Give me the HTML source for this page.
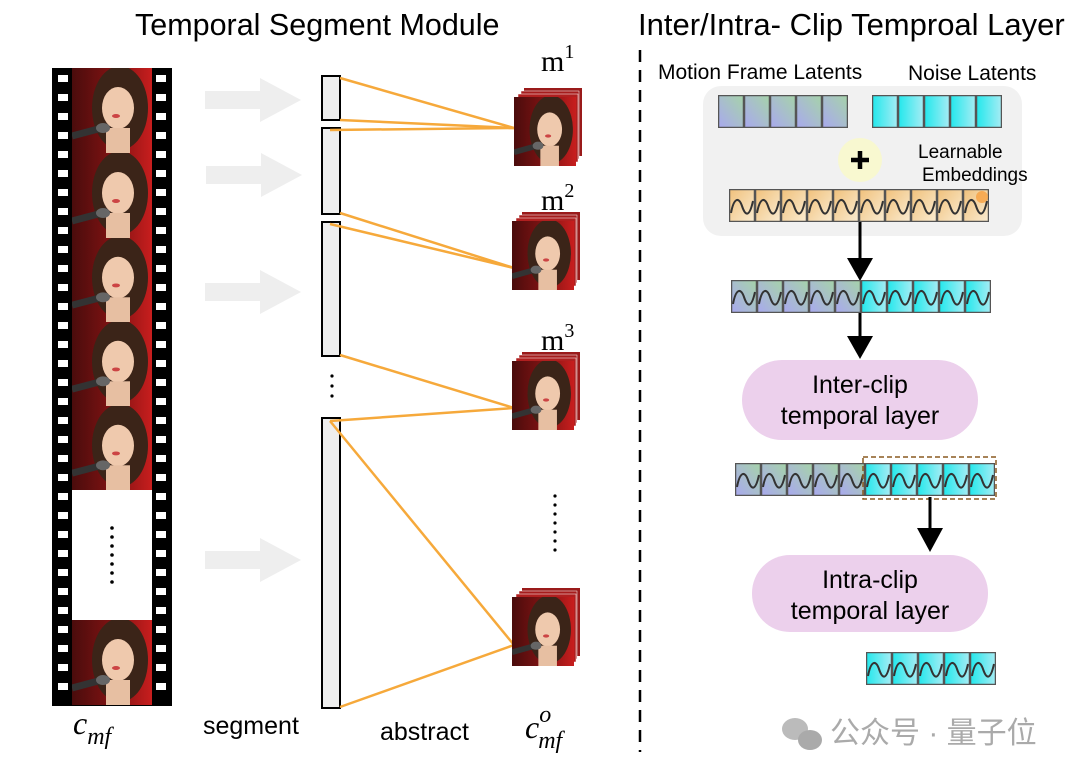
<!DOCTYPE html>
<html><head><meta charset="utf-8"><style>
html,body{margin:0;padding:0;background:#fff;}
svg{display:block;font-family:"Liberation Sans",sans-serif;}
</style></head><body>
<svg width="1080" height="774" viewBox="0 0 1080 774" xmlns="http://www.w3.org/2000/svg">
<defs>
<linearGradient id="bg" x1="0" y1="0" x2="1" y2="0"><stop offset="0" stop-color="#4a0c0c"/><stop offset="0.6" stop-color="#8a1414"/><stop offset="1" stop-color="#c81e1e"/></linearGradient>
<linearGradient id="blue" x1="0" y1="1" x2="1" y2="0"><stop offset="0" stop-color="#a9a8f0"/><stop offset="1" stop-color="#a6d4a8"/></linearGradient>
<linearGradient id="cyan" x1="0" y1="0" x2="1" y2="0"><stop offset="0" stop-color="#20e8ec"/><stop offset="1" stop-color="#a8ecf4"/></linearGradient>
<linearGradient id="orng" x1="0" y1="0" x2="1" y2="1"><stop offset="0" stop-color="#f0c07a"/><stop offset="1" stop-color="#faecd2"/></linearGradient>
<symbol id="face" viewBox="0 0 80 85" width="80" height="85" preserveAspectRatio="none">
<rect width="80" height="85" fill="url(#bg)"/>
<ellipse cx="48" cy="40" rx="28" ry="42" fill="#3b2418"/>
<ellipse cx="46" cy="40" rx="16" ry="21" fill="#efc9ad"/>
<rect x="34" y="60" width="24" height="25" fill="#e7bfa2"/>
<ellipse cx="44" cy="48" rx="4" ry="2" fill="#c44"/>
<path d="M0,68 L30,60" stroke="#333" stroke-width="7"/>
<ellipse cx="31" cy="60" rx="7" ry="5" fill="#666"/>
</symbol>
<symbol id="cb" viewBox="0 0 26 33" width="26" height="33"><rect x="0" y="0" width="26" height="33" fill="url(#blue)" stroke="#555" stroke-width="2.5"/></symbol>
<symbol id="cc" viewBox="0 0 26 33" width="26" height="33"><rect x="0" y="0" width="26" height="33" fill="url(#cyan)" stroke="#555" stroke-width="2.5"/></symbol>
<symbol id="wb" viewBox="0 0 26 33" width="26" height="33"><rect x="0" y="0" width="26" height="33" fill="url(#blue)" stroke="#555" stroke-width="2.5"/><path d="M2,24 C5,8 10,8 13,17 S20,30 24,12" fill="none" stroke="#333" stroke-width="2"/></symbol>
<symbol id="wc" viewBox="0 0 26 33" width="26" height="33"><rect x="0" y="0" width="26" height="33" fill="url(#cyan)" stroke="#555" stroke-width="2.5"/><path d="M2,24 C5,8 10,8 13,17 S20,30 24,12" fill="none" stroke="#333" stroke-width="2"/></symbol>
<symbol id="wo" viewBox="0 0 26 33" width="26" height="33"><rect x="0" y="0" width="26" height="33" fill="url(#orng)" stroke="#555" stroke-width="2.5"/><path d="M2,24 C5,8 10,8 13,17 S20,30 24,12" fill="none" stroke="#333" stroke-width="2"/></symbol>
<symbol id="garrow" viewBox="0 0 96 44" width="96" height="44"><path d="M0,13 H55 V0 L96,22 L55,44 V31 H0 Z" fill="#eeeeee"/></symbol>
<symbol id="stack" viewBox="0 0 68 78" width="68" height="78">
<rect x="10" y="0" width="58" height="68" fill="#9a1a1a"/>
<rect x="7" y="3" width="58" height="68" fill="#a51c1c" stroke="#fff" stroke-width="0.5"/>
<rect x="4" y="6" width="60" height="68" fill="#b01f1f" stroke="#fff" stroke-width="0.5"/>
<use href="#face" x="0" y="9" width="62" height="69"/>
</symbol>
</defs>

<text x="135" y="35" font-size="30.5">Temporal Segment Module</text>
<text x="638" y="35" font-size="31">Inter/Intra- Clip Temproal Layer</text>

<!-- film strip -->
<rect x="52" y="68" width="120" height="638" fill="#000"/>
<use href="#face" x="72" y="68" width="80" height="85"/>
<use href="#face" x="72" y="153" width="80" height="85"/>
<use href="#face" x="72" y="238" width="80" height="84"/>
<use href="#face" x="72" y="322" width="80" height="84"/>
<use href="#face" x="72" y="406" width="80" height="84"/>
<rect x="72" y="490" width="80" height="130" fill="#fff"/>
<use href="#face" x="72" y="620" width="80" height="85"/>
<g fill="#fff">
<rect x="58" y="75" width="10" height="7"/><rect x="58" y="94" width="10" height="7"/><rect x="58" y="113" width="10" height="7"/><rect x="58" y="132" width="10" height="7"/><rect x="58" y="151" width="10" height="7"/><rect x="58" y="170" width="10" height="7"/><rect x="58" y="189" width="10" height="7"/><rect x="58" y="208" width="10" height="7"/><rect x="58" y="227" width="10" height="7"/><rect x="58" y="246" width="10" height="7"/><rect x="58" y="265" width="10" height="7"/><rect x="58" y="284" width="10" height="7"/><rect x="58" y="303" width="10" height="7"/><rect x="58" y="322" width="10" height="7"/><rect x="58" y="341" width="10" height="7"/><rect x="58" y="360" width="10" height="7"/><rect x="58" y="379" width="10" height="7"/><rect x="58" y="398" width="10" height="7"/><rect x="58" y="417" width="10" height="7"/><rect x="58" y="436" width="10" height="7"/><rect x="58" y="455" width="10" height="7"/><rect x="58" y="474" width="10" height="7"/><rect x="58" y="493" width="10" height="7"/><rect x="58" y="512" width="10" height="7"/><rect x="58" y="531" width="10" height="7"/><rect x="58" y="550" width="10" height="7"/><rect x="58" y="569" width="10" height="7"/><rect x="58" y="588" width="10" height="7"/><rect x="58" y="607" width="10" height="7"/><rect x="58" y="626" width="10" height="7"/><rect x="58" y="645" width="10" height="7"/><rect x="58" y="664" width="10" height="7"/><rect x="58" y="683" width="10" height="7"/>
<rect x="156" y="75" width="10" height="7"/><rect x="156" y="94" width="10" height="7"/><rect x="156" y="113" width="10" height="7"/><rect x="156" y="132" width="10" height="7"/><rect x="156" y="151" width="10" height="7"/><rect x="156" y="170" width="10" height="7"/><rect x="156" y="189" width="10" height="7"/><rect x="156" y="208" width="10" height="7"/><rect x="156" y="227" width="10" height="7"/><rect x="156" y="246" width="10" height="7"/><rect x="156" y="265" width="10" height="7"/><rect x="156" y="284" width="10" height="7"/><rect x="156" y="303" width="10" height="7"/><rect x="156" y="322" width="10" height="7"/><rect x="156" y="341" width="10" height="7"/><rect x="156" y="360" width="10" height="7"/><rect x="156" y="379" width="10" height="7"/><rect x="156" y="398" width="10" height="7"/><rect x="156" y="417" width="10" height="7"/><rect x="156" y="436" width="10" height="7"/><rect x="156" y="455" width="10" height="7"/><rect x="156" y="474" width="10" height="7"/><rect x="156" y="493" width="10" height="7"/><rect x="156" y="512" width="10" height="7"/><rect x="156" y="531" width="10" height="7"/><rect x="156" y="550" width="10" height="7"/><rect x="156" y="569" width="10" height="7"/><rect x="156" y="588" width="10" height="7"/><rect x="156" y="607" width="10" height="7"/><rect x="156" y="626" width="10" height="7"/><rect x="156" y="645" width="10" height="7"/><rect x="156" y="664" width="10" height="7"/><rect x="156" y="683" width="10" height="7"/>
</g>
<g fill="#000"><circle cx="112" cy="528" r="1.8"/><circle cx="112" cy="537" r="1.8"/><circle cx="112" cy="546" r="1.8"/><circle cx="112" cy="555" r="1.8"/><circle cx="112" cy="564" r="1.8"/><circle cx="112" cy="573" r="1.8"/><circle cx="112" cy="582" r="1.8"/></g>

<!-- gray arrows -->
<use href="#garrow" x="205" y="78"/>
<use href="#garrow" x="206" y="153"/>
<use href="#garrow" x="205" y="270"/>
<use href="#garrow" x="205" y="538"/>

<!-- segment bars -->
<g fill="#eee" stroke="#000" stroke-width="2">
<rect x="322" y="76" width="18" height="44"/>
<rect x="322" y="128" width="18" height="86"/>
<rect x="322" y="222" width="18" height="134"/>
<rect x="322" y="418" width="18" height="290"/>
</g>
<g fill="#000"><circle cx="332" cy="376" r="1.6"/><circle cx="332" cy="386" r="1.6"/><circle cx="332" cy="396" r="1.6"/></g>

<!-- orange lines -->
<g stroke="#f6a93b" stroke-width="2.5" fill="none">
<line x1="340" y1="78" x2="514" y2="128"/>
<line x1="340" y1="120" x2="514" y2="128"/>
<line x1="330" y1="130" x2="514" y2="128"/>
<line x1="340" y1="213" x2="514" y2="268"/>
<line x1="330" y1="224" x2="514" y2="268"/>
<line x1="340" y1="355" x2="514" y2="408"/>
<line x1="330" y1="421" x2="514" y2="408"/>
<line x1="330" y1="421" x2="514" y2="645"/>
<line x1="340" y1="707" x2="514" y2="645"/>
</g>

<!-- stacks -->
<use href="#stack" x="514" y="88"/>
<use href="#stack" x="512" y="212"/>
<use href="#stack" x="512" y="352"/>
<use href="#stack" x="512" y="588"/>
<g font-family="Liberation Serif,serif" font-size="30">
<text x="541" y="71">m<tspan font-size="20" dy="-13">1</tspan></text>
<text x="541" y="210">m<tspan font-size="20" dy="-13">2</tspan></text>
<text x="541" y="350">m<tspan font-size="20" dy="-13">3</tspan></text>
</g>
<g fill="#000"><circle cx="555" cy="496" r="1.6"/><circle cx="555" cy="505" r="1.6"/><circle cx="555" cy="514" r="1.6"/><circle cx="555" cy="523" r="1.6"/><circle cx="555" cy="532" r="1.6"/><circle cx="555" cy="541" r="1.6"/><circle cx="555" cy="550" r="1.6"/></g>

<!-- bottom labels -->
<text x="73" y="734" font-family="Liberation Serif,serif" font-style="italic" font-size="32">c<tspan font-size="24" dy="10">mf</tspan></text>
<text x="203" y="734" font-size="25">segment</text>
<text x="380" y="740" font-size="25">abstract</text>
<text x="525" y="738" font-family="Liberation Serif,serif" font-style="italic" font-size="32">c<tspan font-size="24" dy="-16">o</tspan><tspan font-size="24" dx="-13" dy="26">mf</tspan></text>

<!-- dashed divider -->
<line x1="640" y1="50" x2="640" y2="752" stroke="#000" stroke-width="2.5" stroke-dasharray="12,8"/>

<!-- right side -->
<text x="658" y="79" font-size="21">Motion Frame Latents</text>
<text x="908" y="80" font-size="21">Noise Latents</text>
<rect x="703" y="86" width="319" height="150" rx="18" fill="#f1f1f1"/>
<use href="#cb" x="718" y="95"/><use href="#cb" x="744" y="95"/><use href="#cb" x="770" y="95"/><use href="#cb" x="796" y="95"/><use href="#cb" x="822" y="95"/>
<use href="#cc" x="872" y="95"/><use href="#cc" x="898" y="95"/><use href="#cc" x="924" y="95"/><use href="#cc" x="950" y="95"/><use href="#cc" x="976" y="95"/>
<circle cx="860" cy="160" r="22" fill="#f8f8d0"/>
<path d="M860,151 V169 M851,160 H869" stroke="#000" stroke-width="4.5"/>
<text x="918" y="158" font-size="19">Learnable</text>
<text x="922" y="181" font-size="19">Embeddings</text>
<use href="#wo" x="729" y="189"/><use href="#wo" x="755" y="189"/><use href="#wo" x="781" y="189"/><use href="#wo" x="807" y="189"/><use href="#wo" x="833" y="189"/><use href="#wo" x="859" y="189"/><use href="#wo" x="885" y="189"/><use href="#wo" x="911" y="189"/><use href="#wo" x="937" y="189"/><use href="#wo" x="963" y="189"/>
<circle cx="982" cy="197" r="6" fill="#f7a040" opacity="0.8"/>

<line x1="860" y1="222" x2="860" y2="262" stroke="#000" stroke-width="3"/>
<path d="M847,258 L873,258 L860,281 Z" fill="#000"/>
<use href="#wb" x="731" y="280"/><use href="#wb" x="757" y="280"/><use href="#wb" x="783" y="280"/><use href="#wb" x="809" y="280"/><use href="#wb" x="835" y="280"/>
<use href="#wc" x="861" y="280"/><use href="#wc" x="887" y="280"/><use href="#wc" x="913" y="280"/><use href="#wc" x="939" y="280"/><use href="#wc" x="965" y="280"/>

<line x1="860" y1="313" x2="860" y2="340" stroke="#000" stroke-width="3"/>
<path d="M847,336 L873,336 L860,359 Z" fill="#000"/>
<rect x="742" y="360" width="236" height="80" rx="40" fill="#ecd0ec"/>
<text x="860" y="393" font-size="25" text-anchor="middle">Inter-clip</text>
<text x="860" y="424" font-size="25" text-anchor="middle">temporal layer</text>

<use href="#wb" x="735" y="463"/><use href="#wb" x="761" y="463"/><use href="#wb" x="787" y="463"/><use href="#wb" x="813" y="463"/><use href="#wb" x="839" y="463"/>
<use href="#wc" x="865" y="463"/><use href="#wc" x="891" y="463"/><use href="#wc" x="917" y="463"/><use href="#wc" x="943" y="463"/><use href="#wc" x="969" y="463"/>
<rect x="863" y="457" width="133" height="42" fill="none" stroke="#8a5a20" stroke-width="1.5" stroke-dasharray="5,3"/>
<line x1="930" y1="497" x2="930" y2="532" stroke="#000" stroke-width="3"/>
<path d="M917,528 L943,528 L930,552 Z" fill="#000"/>
<rect x="752" y="555" width="236" height="77" rx="38" fill="#ecd0ec"/>
<text x="870" y="588" font-size="25" text-anchor="middle">Intra-clip</text>
<text x="870" y="619" font-size="25" text-anchor="middle">temporal layer</text>
<use href="#wc" x="866" y="652"/><use href="#wc" x="892" y="652"/><use href="#wc" x="918" y="652"/><use href="#wc" x="944" y="652"/><use href="#wc" x="970" y="652"/>

<!-- watermark -->
<g fill="#bbb"><ellipse cx="795" cy="729" rx="13" ry="11"/><ellipse cx="810" cy="740" rx="12" ry="10" fill="#aaa"/></g>
<text x="830" y="743" font-size="30" fill="#aaa" font-family="Liberation Sans,'Noto Sans CJK SC',sans-serif">公众号 · 量子位</text>
</svg>
</body></html>
